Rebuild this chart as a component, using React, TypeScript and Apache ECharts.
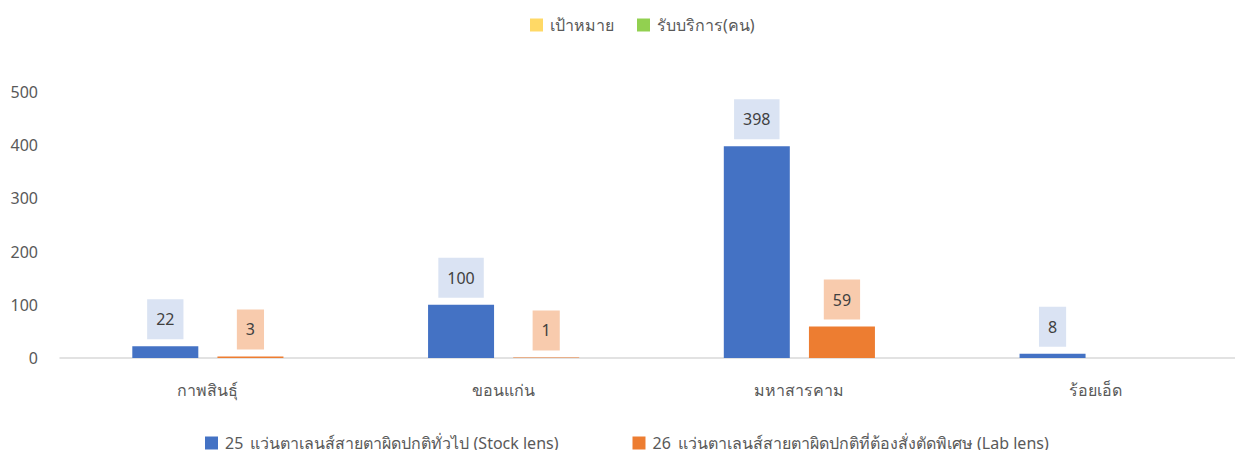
import React, { useEffect, useRef } from "react";
import * as echarts from "echarts";

const categories = ["กาพสินธุ์", "ขอนแก่น", "มหาสารคาม", "ร้อยเอ็ด"];
const stockName = "25_แว่นตาเลนส์สายตาผิดปกติทั่วไป (Stock lens)";
const labName = "26_แว่นตาเลนส์สายตาผิดปกติที่ต้องสั่งตัดพิเศษ (Lab lens)";
const stockValues = [22, 100, 398, 8];
const labValues: (number | null)[] = [3, 1, 59, null];
const targetName = "เป้าหมาย";
const servedName = "รับบริการ(คน)";
const yTicks = { min: 0, max: 500, interval: 100 };

const FONT = "Tahoma, 'Noto Sans', 'DejaVu Sans', sans-serif";

export default function App() {
  const ref = useRef<HTMLDivElement>(null);
  useEffect(() => {
    if (!ref.current) return;
    const chart = echarts.init(ref.current, null, { renderer: "svg" });
    const labelBase = {
      show: true,
      position: "top",
      distance: 7,
      color: "#404040",
      fontSize: 16,
      fontFamily: FONT,
      padding: [12, 9],
    };
    const legendText = { fontSize: 16, color: "#595959", fontFamily: FONT, padding: [0, 0, 0, 2] };
    chart.setOption({
      animation: false,
      textStyle: { fontFamily: FONT },
      legend: [
        {
          data: [targetName, servedName],
          top: 12,
          left: 525,
          itemWidth: 13,
          itemHeight: 13,
          itemGap: 23,
          icon: "rect",
          textStyle: legendText,
        },
        {
          data: [stockName, labName],
          top: 430,
          left: 200,
          itemWidth: 13,
          itemHeight: 13,
          itemGap: 74,
          icon: "rect",
          textStyle: legendText,
        },
      ],
      grid: { left: 60, right: -7, top: 92, bottom: 100 },
      xAxis: {
        type: "category",
        data: categories,
        axisLine: { lineStyle: { color: "#d9d9d9", width: 1.5 } },
        axisTick: { show: false },
        axisLabel: { fontSize: 16, color: "#595959", margin: 24, fontFamily: FONT },
      },
      yAxis: {
        type: "value",
        ...yTicks,
        axisLine: { show: false },
        axisTick: { show: false },
        splitLine: { show: false },
        axisLabel: { fontSize: 16, color: "#595959", margin: 22, fontFamily: FONT },
      },
      series: [
        {
          name: stockName,
          type: "bar",
          data: stockValues,
          barWidth: 66,
          barGap: "29%",
          itemStyle: { color: "#4472C4" },
          label: { ...labelBase, backgroundColor: "#DAE3F3" },
        },
        {
          name: labName,
          type: "bar",
          data: labValues,
          barWidth: 66,
          barGap: "29%",
          itemStyle: { color: "#ED7D31" },
          label: { ...labelBase, backgroundColor: "#F8CBAD" },
        },
        { name: targetName, type: "line", data: [], itemStyle: { color: "#FFD966" }, lineStyle: { color: "#FFD966" } },
        { name: servedName, type: "line", data: [], itemStyle: { color: "#92D050" }, lineStyle: { color: "#92D050" } },
      ],
    });
    return () => chart.dispose();
  }, []);
  return <div ref={ref} style={{ width: 1243, height: 458, margin: -8 }} />;
}
